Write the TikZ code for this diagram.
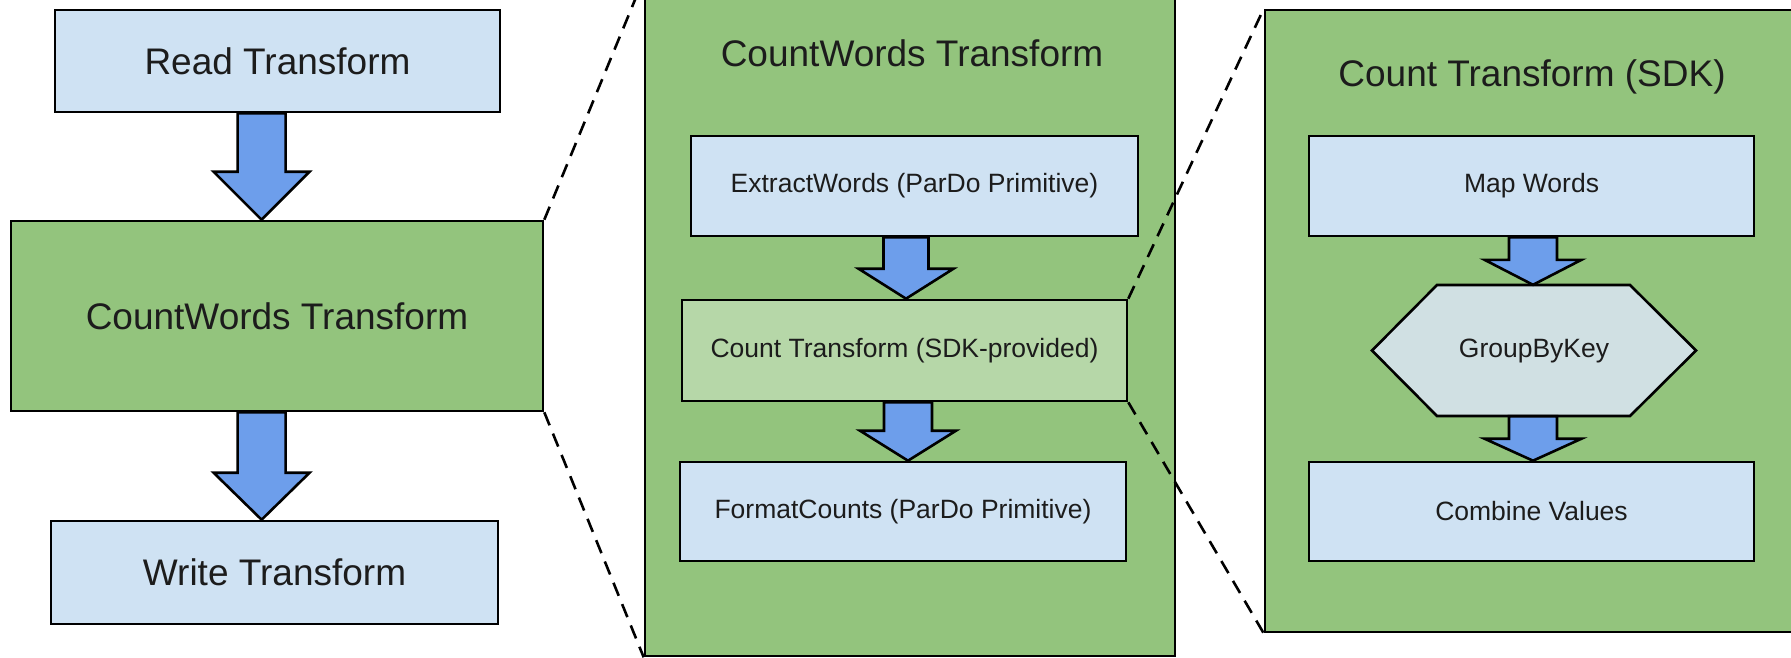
\documentclass[tikz,border=0pt]{standalone}
\usepackage{fontspec}
\setmainfont{Liberation Sans}
\usetikzlibrary{calc}
\definecolor{boxblue}{HTML}{CFE2F3}
\definecolor{boxgreen}{HTML}{93C47D}
\definecolor{boxlgreen}{HTML}{B6D7A8}
\definecolor{arrowblue}{HTML}{6D9EEB}
\definecolor{hexgray}{HTML}{D0E0E3}
\definecolor{txt}{HTML}{1C1C1C}
% #1 x-position coordinate, #2 from anchor, #3 to anchor, #4 shaft half width, #5 head half width, #6 head length
\newcommand\blockarr[6]{%
  \path[bigarrow] let \p1=(#1 |- #2), \p2=(#1 |- #3) in
  (\x1-#4,\y1) -- (\x1+#4,\y1) -- (\x1+#4,\y2+#6) -- (\x1+#5,\y2+#6) -- (\x1,\y2)
  -- (\x1-#5,\y2+#6) -- (\x1-#4,\y2+#6) -- cycle;}
\begin{document}
\begin{tikzpicture}[x=1pt,y=-1pt,
  box/.style={draw=black,line width=2.6pt,inner sep=0pt,text=txt,font=\fontsize{26.5}{32}\selectfont},
  bigbox/.style={box,font=\fontsize{37}{44}\selectfont},
  hexshape/.style={draw=black,line width=2.6pt,fill=hexgray,line join=miter},
  bigarrow/.style={fill=arrowblue,draw=black,line width=2.6pt,line join=miter},
  zoomline/.style={draw=black,line width=2.6pt,dash pattern=on 14pt off 9pt},
  title/.style={text=txt,font=\fontsize{37}{44}\selectfont,inner sep=0pt},
  small/.style={text=txt,font=\fontsize{26.5}{32}\selectfont,inner sep=0pt}]
\useasboundingbox (0,0) rectangle (1791,658);

% left column
\node[bigbox,fill=boxblue,minimum width=445pt,minimum height=102pt] (read) at (277.5,61) {Read Transform};
\node[bigbox,fill=boxgreen,minimum width=532pt,minimum height=190pt] (cwl) at (277,316) {CountWords Transform};
\node[bigbox,fill=boxblue,minimum width=447pt,minimum height=103pt] (write) at (274.5,572.5) {Write Transform};

% middle column
\node[box,fill=boxgreen,minimum width=530pt,minimum height=676pt] (mid) at (910,318) {};
\node[title] (midtitle) at (912,53) {CountWords Transform};
\node[box,fill=boxblue,minimum width=447pt,minimum height=100pt] (extract) at (914.5,186) {ExtractWords (ParDo Primitive)};
\node[box,fill=boxlgreen,minimum width=445pt,minimum height=101pt] (countsdk) at (904.5,350.5) {Count Transform (SDK-provided)};
\node[box,fill=boxblue,minimum width=446pt,minimum height=99pt] (format) at (903,511.5) {FormatCounts (ParDo Primitive)};

% right column
\node[box,fill=boxgreen,minimum width=535pt,minimum height=622pt] (right) at (1532.5,321) {};
\node[title] (righttitle) at (1532,77) {Count Transform (SDK)};
\node[box,fill=boxblue,minimum width=445pt,minimum height=100pt] (map) at (1531.5,186) {Map Words};
\coordinate (gbkc) at (1534,350.5);
\draw[hexshape] ($(gbkc)+(-162,0)$) -- ($(gbkc)+(-97,-65.5)$) -- ($(gbkc)+(96,-65.5)$)
  -- ($(gbkc)+(162,0)$) -- ($(gbkc)+(96,65.5)$) -- ($(gbkc)+(-97,65.5)$) -- cycle;
\node[small,minimum width=324pt,minimum height=131pt] (gbk) at (gbkc) {GroupByKey};
\node[box,fill=boxblue,minimum width=445pt,minimum height=99pt] (combine) at (1531.5,511.5) {Combine Values};

% block arrows
\coordinate (ax1) at (261.6,0);
\coordinate (ax2) at (906,0);
\coordinate (ax3) at (908,0);
\coordinate (ax4) at (1533,0);
\blockarr{ax1}{read.south}{cwl.north}{24pt}{48pt}{48pt}
\blockarr{ax1}{cwl.south}{write.north}{24pt}{48pt}{47pt}
\blockarr{ax2}{extract.south}{countsdk.north}{22.5pt}{47.5pt}{30pt}
\blockarr{ax3}{countsdk.south}{format.north}{24pt}{48pt}{30pt}
\blockarr{ax4}{map.south}{gbk.north}{24pt}{48.5pt}{25pt}
\blockarr{ax4}{gbk.south}{combine.north}{24pt}{48.5pt}{22pt}

% zoom lines
\draw[zoomline] (cwl.north east) -- (mid.north west);
\draw[zoomline] (cwl.south east) -- (mid.south west);
\draw[zoomline] (countsdk.north east) -- (right.north west);
\draw[zoomline] (countsdk.south east) -- (right.south west);
\end{tikzpicture}
\end{document}
